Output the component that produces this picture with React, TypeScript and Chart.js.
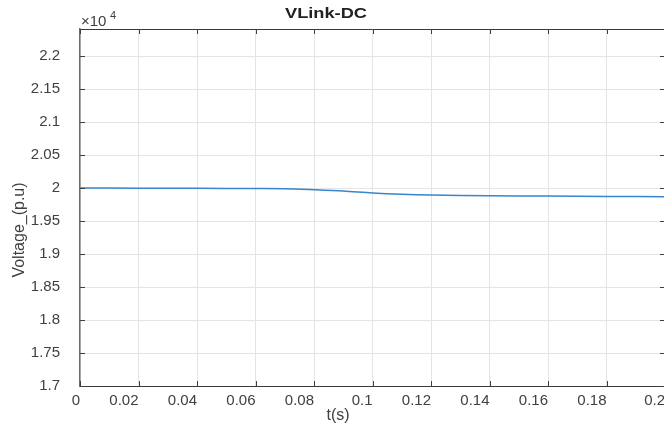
import React, { useEffect, useRef } from "react";
import { Chart, registerables } from "chart.js";

Chart.register(...registerables);

const timeS = [0, 0.02, 0.04, 0.06, 0.07, 0.08, 0.09, 0.1, 0.11, 0.12, 0.14, 0.16, 0.18, 0.2];
const voltage = [20000, 19998, 19995, 19993, 19991, 19975, 19955, 19925, 19905, 19893, 19882, 19878, 19873, 19868];
const xTicks = [0, 0.02, 0.04, 0.06, 0.08, 0.1, 0.12, 0.14, 0.16, 0.18, 0.2];
const yTicks = [17000, 17500, 18000, 18500, 19000, 19500, 20000, 20500, 21000, 21500, 22000];
const titleText = "VLink-DC";
const xLabel = "t(s)";
const yLabel = "Voltage_(p.u)";
const FONT = "'Liberation Sans', Arial, sans-serif";

const decorPlugin = {
  id: "decor",
  afterDraw(chart: any) {
    const { ctx, chartArea: a, scales } = chart;
    const xs = scales.x;
    const ys = scales.y;
    ctx.save();
    ctx.strokeStyle = "#3a3a3a";
    ctx.lineWidth = 1;
    ctx.beginPath();
    ctx.moveTo(a.left, a.top + 0.5);
    ctx.lineTo(a.right, a.top + 0.5);
    ctx.stroke();
    ctx.strokeStyle = "#404040";
    xTicks.forEach((t) => {
      const px = Math.round(xs.getPixelForValue(t)) + 0.5;
      ctx.beginPath();
      ctx.moveTo(px, a.bottom);
      ctx.lineTo(px, a.bottom - 5);
      ctx.moveTo(px, a.top);
      ctx.lineTo(px, a.top + 5);
      ctx.stroke();
    });
    yTicks.forEach((v) => {
      const py = Math.round(ys.getPixelForValue(v)) + 0.5;
      ctx.beginPath();
      ctx.moveTo(a.left, py);
      ctx.lineTo(a.left + 5, py);
      ctx.moveTo(a.right, py);
      ctx.lineTo(a.right - 5, py);
      ctx.stroke();
    });
    ctx.fillStyle = "#222";
    ctx.save();
    ctx.translate(326, 14);
    ctx.scale(1.3, 1);
    ctx.font = `bold 14px ${FONT}`;
    ctx.textAlign = "center";
    ctx.textBaseline = "middle";
    ctx.fillText(titleText, 0, 0);
    ctx.restore();
    ctx.fillStyle = "#404040";
    ctx.font = `15px ${FONT}`;
    ctx.textAlign = "left";
    ctx.textBaseline = "alphabetic";
    ctx.fillText("\u00d710", 81, 26);
    ctx.font = `11px ${FONT}`;
    ctx.fillText("4", 110, 19);
    ctx.font = `16px ${FONT}`;
    ctx.textAlign = "center";
    ctx.textBaseline = "middle";
    ctx.fillText(xLabel, 338, 416);
    ctx.save();
    ctx.translate(20, 230);
    ctx.rotate(-Math.PI / 2);
    ctx.fillText(yLabel, 0, 0);
    ctx.restore();
    ctx.restore();
  },
};

export default function App() {
  const ref = useRef<HTMLCanvasElement | null>(null);
  useEffect(() => {
    document.body.style.margin = "0";
    const canvas = ref.current!;
    const chart = new Chart(canvas, {
      type: "line",
      data: {
        datasets: [
          {
            data: timeS.map((t, i) => ({ x: t, y: voltage[i] })),
            borderColor: "#3586cc",
            borderWidth: 1.5,
            pointRadius: 0,
            tension: 0.3,
            fill: false,
          },
        ],
      },
      options: {
        responsive: false,
        animation: false,
        layout: { padding: { top: 28, left: 0, right: 35, bottom: 0 } },
        plugins: { legend: { display: false }, tooltip: { enabled: false }, title: { display: false } },
        scales: {
          x: {
            type: "linear",
            min: 0,
            max: 0.2,
            afterBuildTicks: (s: any) => {
              s.ticks = xTicks.map((v) => ({ value: v }));
            },
            afterFit: (s: any) => {
              s.height = 44;
            },
            ticks: {
              padding: 6,
              align: "end",
              color: "#404040",
              font: { family: FONT, size: 15 },
              maxRotation: 0,
              autoSkip: false,
              callback: (v: any) => String(parseFloat(Number(v).toFixed(2))),
            },
            grid: { color: "#e4e4e4", lineWidth: 1, drawTicks: false },
            border: { color: "#3a3a3a", width: 1 },
          },
          y: {
            type: "linear",
            min: 17000,
            max: 22410,
            afterBuildTicks: (s: any) => {
              s.ticks = yTicks.map((v) => ({ value: v }));
            },
            afterFit: (s: any) => {
              s.width = 80;
            },
            ticks: {
              padding: 20,
              color: "#404040",
              font: { family: FONT, size: 15 },
              autoSkip: false,
              callback: (v: any) => String(parseFloat((Number(v) / 1e4).toFixed(2))),
            },
            grid: { color: "#e4e4e4", lineWidth: 1, drawTicks: false },
            border: { color: "#6a6a6a", width: 1.5 },
          },
        },
      },
      plugins: [decorPlugin],
    } as any);
    return () => chart.destroy();
  }, []);
  return (
    <div style={{ width: 664, height: 430, overflow: "hidden", background: "#fff" }}>
      <canvas ref={ref} width={700} height={430} style={{ display: "block" }} />
    </div>
  );
}
